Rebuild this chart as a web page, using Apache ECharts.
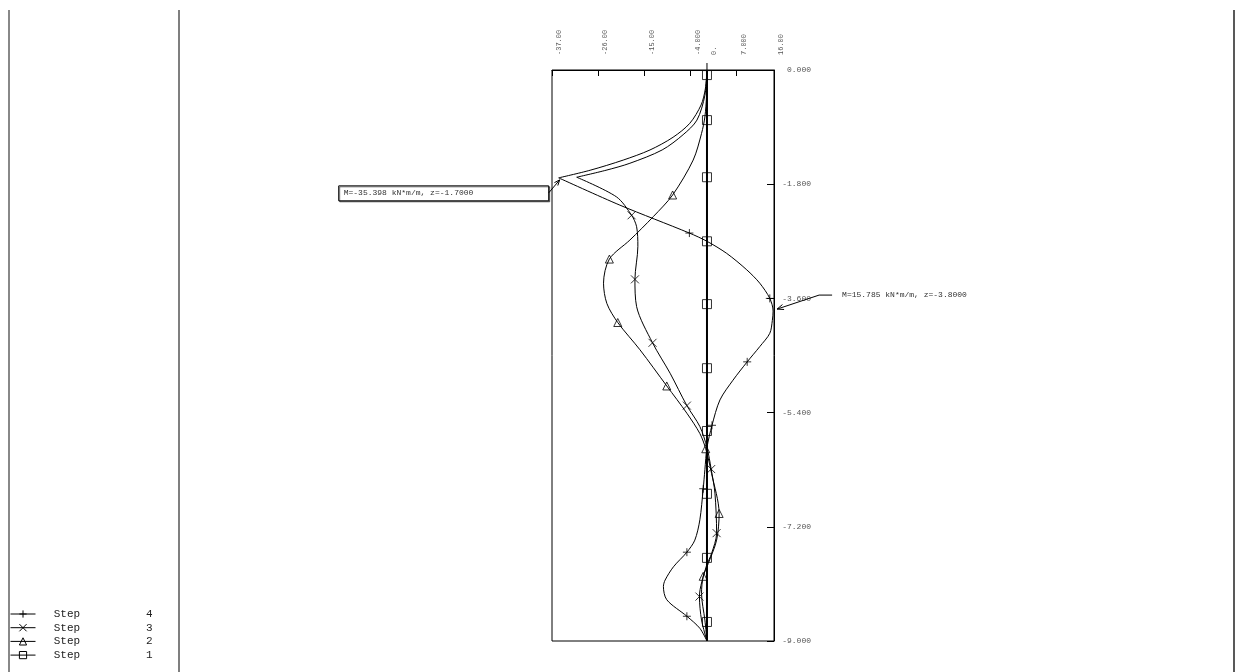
<!DOCTYPE html>
<html><head><meta charset="utf-8">
<script src="https://cdn.jsdelivr.net/npm/echarts@6/dist/echarts.min.js"></script>
<style>html,body{margin:0;padding:0;background:#fff}#c{width:1237px;height:672px}</style>
</head><body><div id="c"></div>
<script>
// ---- data (moment kN*m/m, depth z m) ----
const seriesNames = ['Step 4', 'Step 3', 'Step 2', 'Step 1'];
const xTickValues = [-37, -26, -15, -4, 7, 16];
const xLabelValues = [-37, -26, -15, -4, 0, 7, 16];
const xLabelTexts = ['-37.00', '-26.00', '-15.00', '-4.000', '0.', '7.000', '16.00'];

const step4 = [[0,0],[-0.4,-0.3],[-1.4,-0.55],[-4.1,-0.84],[-8.1,-1.06],[-13.6,-1.26],[-20.0,-1.42],[-27.9,-1.58],[-35.398,-1.7],
  [-20.8,-2.13],[-4.2,-2.57],[0,-2.70],[4.7,-2.89],[9.5,-3.15],[12.6,-3.36],[15.0,-3.6],[15.785,-3.8],[15.6,-3.95],[15.0,-4.15],[12.6,-4.36],[9.6,-4.6],[6.2,-4.89],[3.1,-5.2],[1.2,-5.6],
  [0,-5.95],[-0.5,-6.3],[-0.9,-6.6],[-1.7,-7.09],[-2.9,-7.41],[-4.8,-7.6],[-8.0,-7.83],[-10.0,-8.04],[-10.4,-8.14],[-9.6,-8.35],[-4.8,-8.61],[-1.7,-8.8],[0,-9]];
const step4Marks = [[-4.2,-2.57],[15.0,-3.6],[9.6,-4.6],[1.2,-5.6],[-0.9,-6.6],[-4.8,-7.6],[-4.8,-8.61]];

const step3 = [[0,0],[-0.5,-0.4],[-2.4,-0.79],[-5.7,-1.02],[-10.7,-1.26],[-18.4,-1.47],[-24.1,-1.58],[-31.1,-1.69],
  [-21.6,-2.0],[-18.0,-2.29],[-16.8,-2.47],[-16.5,-2.78],[-17.2,-3.3],[-16.8,-3.73],[-13.0,-4.3],[-8.8,-4.78],[-4.8,-5.29],[-1.7,-5.62],
  [0,-5.95],[1.0,-6.29],[1.9,-6.67],[2.3,-7.3],[1.1,-7.62],[-0.2,-7.83],[-1.8,-8.3],[-1.3,-8.67],[0,-9]];
const step3Marks = [[-18.0,-2.29],[-17.2,-3.3],[-13.0,-4.3],[-4.8,-5.29],[1.0,-6.29],[2.3,-7.3],[-1.8,-8.3]];

const step2 = [[0,0],[-0.1,-0.4],[-0.5,-0.74],[-1.3,-1.0],[-3.3,-1.42],[-8.2,-1.97],[-12.8,-2.31],[-18.4,-2.68],[-23.3,-2.98],[-24.7,-3.36],[-23.9,-3.68],[-21.3,-3.98],[-16.0,-4.41],[-9.6,-4.98],[-4.8,-5.41],[-1.7,-5.73],
  [-0.3,-5.97],[1.1,-6.36],[2.9,-6.99],[2.3,-7.41],[0.3,-7.78],[-0.9,-7.98],[-1.3,-8.25],[-0.5,-8.67],[0,-9]];
const step2Marks = [[-8.2,-1.97],[-23.3,-2.98],[-21.3,-3.98],[-9.6,-4.98],[-0.3,-5.97],[2.9,-6.99],[-0.9,-7.98]];

const step1 = [[0,0],[0,-9]];
const step1Marks = [[0,-0.08],[0,-0.79],[0,-1.69],[0,-2.70],[0,-3.69],[0,-4.70],[0,-5.69],[0,-6.68],[0,-7.69],[0,-8.70]];

const peakMin = [-35.398, -1.7];
const peakMax = [15.785, -3.8];
const peakMinText = 'M=-35.398 kN*m/m, z=-1.7000';
const peakMaxText = 'M=15.785 kN*m/m, z=-3.8000';

// ---- chart ----
const FONT = '"Liberation Mono","DejaVu Sans Mono",monospace';
const SYM = {
  'Step 4': 'path://M5,0L5,10M0,5L10,5',
  'Step 3': 'path://M0,0L10,10M10,0L0,10',
  'Step 2': 'triangle',
  'Step 1': 'rect'
};
const itemStyle = {color: 'rgba(0,0,0,0)', borderColor: '#000', borderWidth: 1};

function splitAtCusp(d) {
  let idx = 0;
  d.forEach((p, i) => { if (p[0] < d[idx][0]) idx = i; });
  return [d.slice(0, idx + 1), d.slice(idx)];
}
function lineSeries(name, data, width) {
  return {type: 'line', name, data, smooth: 0.3, symbol: SYM[name], symbolSize: 8, showSymbol: false,
    lineStyle: {color: '#000', width: width || 1}, itemStyle, emphasis: {disabled: true}, silent: true, z: 2};
}
function markSeries(name, data) {
  return {type: 'scatter', name: name + ' marks', data, symbol: SYM[name], symbolSize: name === 'Step 1' ? 9 : 8,
    itemStyle, emphasis: {disabled: true}, silent: true, z: 3};
}
const s4 = splitAtCusp(step4), s3 = splitAtCusp(step3);
const series = [
  lineSeries('Step 4', s4[0]), lineSeries('Step 4', s4[1]),
  lineSeries('Step 3', s3[0]), lineSeries('Step 3', s3[1]),
  lineSeries('Step 2', step2),
  lineSeries('Step 1', step1, 2),
  markSeries('Step 4', step4Marks), markSeries('Step 3', step3Marks),
  markSeries('Step 2', step2Marks), markSeries('Step 1', step1Marks)
];

const chart = echarts.init(document.getElementById('c'));
chart.setOption({
  animation: false,
  backgroundColor: '#fff',
  grid: {left: 552, top: 70, width: 222, height: 571, show: true, borderColor: '#000', borderWidth: 1},
  xAxis: {
    type: 'value', position: 'top', min: -37, max: 16,
    axisLine: {show: true, lineStyle: {color: '#000'}},
    axisTick: {show: true, inside: true, length: 6, customValues: xTickValues, lineStyle: {color: '#000'}},
    axisLabel: {customValues: xLabelValues, formatter: v => xLabelTexts[xLabelValues.indexOf(v)],
      rotate: 90, margin: 15, fontSize: 7, fontFamily: FONT, color: '#555', align: 'left', verticalAlign: 'top', lineHeight: 15},
    splitLine: {show: false}
  },
  yAxis: {
    type: 'value', position: 'right', min: -9, max: 0, interval: 1.8,
    axisLine: {show: true, onZero: false, lineStyle: {color: '#000'}},
    axisTick: {show: true, inside: true, length: 7, lineStyle: {color: '#000'}},
    axisLabel: {formatter: v => v.toFixed(3), margin: 37, align: 'right', fontSize: 8, fontFamily: FONT, color: '#555'},
    splitLine: {show: false}
  },
  legend: {
    data: seriesNames, left: 10, top: 608, orient: 'vertical', itemWidth: 25, itemHeight: 9, itemGap: 1.7,
    padding: 0, height: 62,
    lineStyle: {width: 1, color: '#000'},
    itemStyle: {color: 'rgba(0,0,0,0)', borderColor: '#000', borderWidth: 1},
    selectedMode: false, textStyle: {fontFamily: FONT, fontSize: 11, lineHeight: 12, color: '#222'},
    formatter: n => '  ' + n.replace(' ', ' '.repeat(10))
  },
  series
});

// ---- annotations placed from data values ----
const toPx = v => chart.convertToPixel({xAxisIndex: 0, yAxisIndex: 0}, v);
function arrowHead(tip, from, len, col) {
  const dx = tip[0] - from[0], dy = tip[1] - from[1];
  const a = Math.atan2(dy, dx), s = 0.38;
  return [a - s, a + s].map(t => ({type: 'line', silent: true, z: 10,
    shape: {x1: tip[0], y1: tip[1], x2: tip[0] - len * Math.cos(t), y2: tip[1] - len * Math.sin(t)},
    style: {stroke: col, lineWidth: 1}}));
}
const pA = toPx(peakMin), pB = toPx(peakMax), p0 = toPx([0, 0]);
const g = [];
// outer frame lines
[[9, '#888', 2], [179, '#555', 1.5], [1234, '#222', 1.5]].forEach(([x, c, w]) =>
  g.push({type: 'line', silent: true, shape: {x1: x, y1: 10, x2: x, y2: 672}, style: {stroke: c, lineWidth: w}}));
// zero line extension above the box
g.push({type: 'line', silent: true, z: 10, shape: {x1: p0[0], y1: p0[1] - 7, x2: p0[0], y2: p0[1]}, style: {stroke: '#000', lineWidth: 1}});
// left annotation
g.push({type: 'rect', silent: true, z: 10, shape: {x: pA[0] - 220, y: pA[1] + 8, width: 210, height: 15},
  style: {fill: '#fff', stroke: '#000', lineWidth: 1, shadowColor: 'rgba(0,0,0,0.5)', shadowOffsetX: 1, shadowOffsetY: 1}});
g.push({type: 'text', silent: true, z: 11, style: {x: pA[0] - 215, y: pA[1] + 15.5, text: peakMinText,
  font: '8px ' + FONT, fill: '#333', verticalAlign: 'middle'}});
const aFrom = [pA[0] - 10, pA[1] + 15], aTip = [pA[0] + 1, pA[1] + 2];
g.push({type: 'line', silent: true, z: 10, shape: {x1: aFrom[0], y1: aFrom[1], x2: aTip[0], y2: aTip[1]}, style: {stroke: '#000', lineWidth: 1}});
g.push(...arrowHead(aTip, aFrom, 6, '#000'));
// right annotation
const bTip = [pB[0] + 4, pB[1] - 2], bElbow = [pB[0] + 46, pB[1] - 16], bEnd = [pB[0] + 59, pB[1] - 16];
g.push({type: 'polyline', silent: true, z: 10, shape: {points: [bTip, bElbow, bEnd]}, style: {stroke: '#000', lineWidth: 1, fill: 'none'}});
g.push(...arrowHead(bTip, bElbow, 7, '#000'));
g.push({type: 'text', silent: true, z: 11, style: {x: pB[0] + 69, y: pB[1] - 16, text: peakMaxText,
  font: '8px ' + FONT, fill: '#333', verticalAlign: 'middle'}});
chart.setOption({graphic: g});
</script>
</body></html>
